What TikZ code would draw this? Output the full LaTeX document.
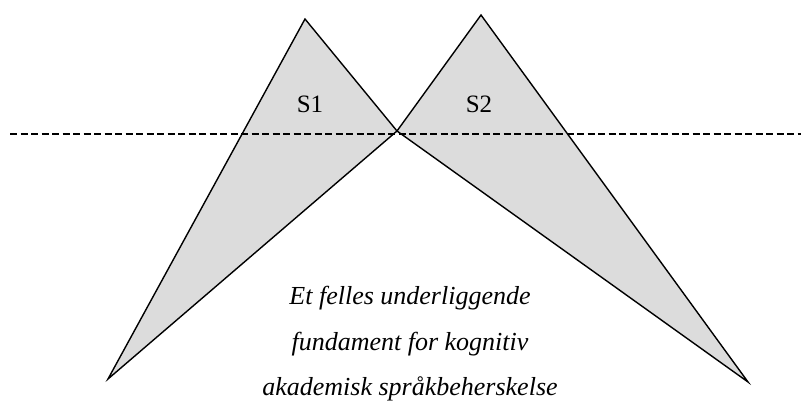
\documentclass[tikz,border=0pt]{standalone}
\usepackage{fontspec}
\setmainfont{Liberation Serif}
\definecolor{tri}{HTML}{DCDCDC}
\begin{document}
\begin{tikzpicture}[x=1pt,y=-1pt,
  triangle/.style={fill=tri,draw=black,line width=1.4pt,line join=miter},
  guide/.style={draw=black,line width=1.4pt,dash pattern=on 7pt off 3.5pt},
  lbl/.style={font=\fontsize{25}{30}\selectfont,inner sep=0pt},
  base/.style={font=\fontsize{26}{45.5}\selectfont\itshape,align=center,inner sep=0pt}]
\useasboundingbox (0,0) rectangle (801,401);
\coordinate (L1) at (305,19);
\coordinate (J) at (397,131);
\coordinate (L2) at (108,379);
\coordinate (R1) at (481,15);
\coordinate (R2) at (748,382);
\coordinate (DL) at (10,134);
\coordinate (DR) at (801,134);
\filldraw[triangle] (L1) -- (J) -- (L2) -- cycle;
\filldraw[triangle] (R1) -- (J) -- (R2) -- cycle;
\draw[guide] (DL) -- (DR);
\node[lbl] (s1) at (310,104) {S1};
\node[lbl] (s2) at (479,104) {S2};
\node[base] (t) at (410,344) {Et felles underliggende\\fundament for kognitiv\\akademisk språkbeherskelse};
\end{tikzpicture}
\end{document}
